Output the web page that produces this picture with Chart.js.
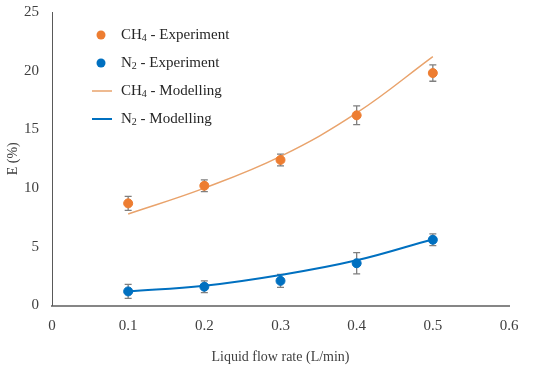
<!DOCTYPE html>
<html>
<head>
<meta charset="utf-8">
<script src="https://cdn.jsdelivr.net/npm/chart.js@4.4.1/dist/chart.umd.min.js"></script>
<style>
  body { margin: 0; background: #fff; }
  #chart { display: block; }
</style>
</head>
<body>
<canvas id="chart" width="550" height="372"></canvas>
<script>
// flow rates (L/min)
var flowRates = [0.1, 0.2, 0.3, 0.4, 0.5];

// experiment values (%) and their error bars
var ch4Exp = [8.7, 10.2, 12.4, 16.2, 19.8];
var ch4Err = [0.6, 0.5, 0.5, 0.8, 0.7];
var n2Exp = [1.2, 1.6, 2.1, 3.6, 5.6];
var n2Err = [0.6, 0.5, 0.55, 0.9, 0.5];

// modelling curves (%)
var ch4Model = [7.8, 10.0, 12.7, 16.4, 21.2];
var n2Model = [1.2, 1.68, 2.6, 3.85, 5.65];

var xTickLabels = ['0', '0.1', '0.2', '0.3', '0.4', '0.5', '0.6'];

var orange = '#ED7D31';
var blue = '#0070C0';
var serif = "'Liberation Serif', 'Times New Roman', serif";

function pts(ys) {
    return flowRates.map(function (x, i) { return { x: x, y: ys[i] }; });
}

// vertical error bars, drawn through the scales
var errorBars = {
    id: 'errorBars',
    beforeDatasetsDraw: function (chart) {
        var ctx = chart.ctx;
        var xs = chart.scales.x, ys = chart.scales.y;
        ctx.save();
        ctx.strokeStyle = '#7F7F7F';
        ctx.lineWidth = 1.3;
        chart.data.datasets.forEach(function (ds) {
            if (!ds.errors) return;
            ds.data.forEach(function (p, i) {
                var px = xs.getPixelForValue(p.x);
                var top = ys.getPixelForValue(p.y + ds.errors[i]);
                var bot = ys.getPixelForValue(p.y - ds.errors[i]);
                ctx.beginPath();
                ctx.moveTo(px, top); ctx.lineTo(px, bot);
                ctx.moveTo(px - 3.5, top); ctx.lineTo(px + 3.5, top);
                ctx.moveTo(px - 3.5, bot); ctx.lineTo(px + 3.5, bot);
                ctx.stroke();
            });
        });
        ctx.restore();
    }
};

// legend inside the plot, with subscripts
var legendItems = [
    { kind: 'dot', color: orange, base: 'CH', sub: '4', rest: ' - Experiment' },
    { kind: 'dot', color: blue, base: 'N', sub: '2', rest: ' - Experiment' },
    { kind: 'line', color: '#E9A36C', width: 1.5, base: 'CH', sub: '4', rest: ' - Modelling' },
    { kind: 'line', color: blue, width: 2, base: 'N', sub: '2', rest: ' - Modelling' }
];

var insideLegend = {
    id: 'insideLegend',
    afterDraw: function (chart) {
        var ctx = chart.ctx;
        ctx.save();
        ctx.textBaseline = 'middle';
        legendItems.forEach(function (it, i) {
            var y = 35 + i * 28;
            if (it.kind === 'dot') {
                ctx.fillStyle = it.color;
                ctx.beginPath();
                ctx.arc(101, y, 4.5, 0, Math.PI * 2);
                ctx.fill();
            } else {
                ctx.strokeStyle = it.color;
                ctx.lineWidth = it.width;
                ctx.beginPath();
                ctx.moveTo(92, y); ctx.lineTo(112, y);
                ctx.stroke();
            }
            var x = 121;
            ctx.fillStyle = '#262626';
            ctx.font = '15px ' + serif;
            ctx.fillText(it.base, x, y);
            x += ctx.measureText(it.base).width;
            ctx.font = '10px ' + serif;
            ctx.fillText(it.sub, x, y + 3);
            x += ctx.measureText(it.sub).width;
            ctx.font = '15px ' + serif;
            ctx.fillText(it.rest, x, y);
        });
        ctx.restore();
    }
};

new Chart(document.getElementById('chart').getContext('2d'), {
    type: 'scatter',
    data: {
        datasets: [{
            label: 'CH4 - Experiment',
            data: pts(ch4Exp),
            errors: ch4Err,
            backgroundColor: orange,
            borderColor: orange,
            pointRadius: 4.5,
            showLine: false
        }, {
            label: 'N2 - Experiment',
            data: pts(n2Exp),
            errors: n2Err,
            backgroundColor: blue,
            borderColor: blue,
            pointRadius: 4.5,
            showLine: false
        }, {
            label: 'CH4 - Modelling',
            data: pts(ch4Model),
            borderColor: '#E9A36C',
            borderWidth: 1.5,
            pointRadius: 0,
            showLine: true,
            tension: 0.4
        }, {
            label: 'N2 - Modelling',
            data: pts(n2Model),
            borderColor: blue,
            borderWidth: 2,
            pointRadius: 0,
            showLine: true,
            tension: 0.4
        }]
    },
    options: {
        responsive: false,
        animation: false,
        layout: { padding: { top: 12, right: 41, left: 0, bottom: 0 } },
        plugins: {
            legend: { display: false },
            tooltip: { enabled: false }
        },
        scales: {
            x: {
                type: 'linear',
                min: 0,
                max: 0.6,
                afterFit: function (s) { s.height = 66.5; },
                grid: { display: false, drawTicks: false },
                border: { color: '#868686', width: 2 },
                ticks: {
                    stepSize: 0.1,
                    padding: 12,
                    color: '#404040',
                    font: { family: serif, size: 15 },
                    callback: function (v, i) { return xTickLabels[i]; }
                },
                title: {
                    display: true,
                    text: 'Liquid flow rate (L/min)',
                    color: '#404040',
                    font: { family: serif, size: 14 },
                    padding: { top: 8, bottom: 6 }
                }
            },
            y: {
                min: 0,
                max: 25,
                afterFit: function (s) { s.width = 52; s.paddingTop = 0; s.paddingBottom = 0; },
                grid: { display: false, drawTicks: false },
                border: { color: '#595959', width: 1 },
                ticks: {
                    stepSize: 5,
                    padding: 13,
                    color: '#404040',
                    font: { family: serif, size: 15 }
                },
                title: {
                    display: true,
                    text: 'E (%)',
                    color: '#404040',
                    font: { family: serif, size: 14 },
                    padding: { top: 5, bottom: 0 }
                }
            }
        }
    },
    plugins: [errorBars, insideLegend]
});
</script>
</body>
</html>
